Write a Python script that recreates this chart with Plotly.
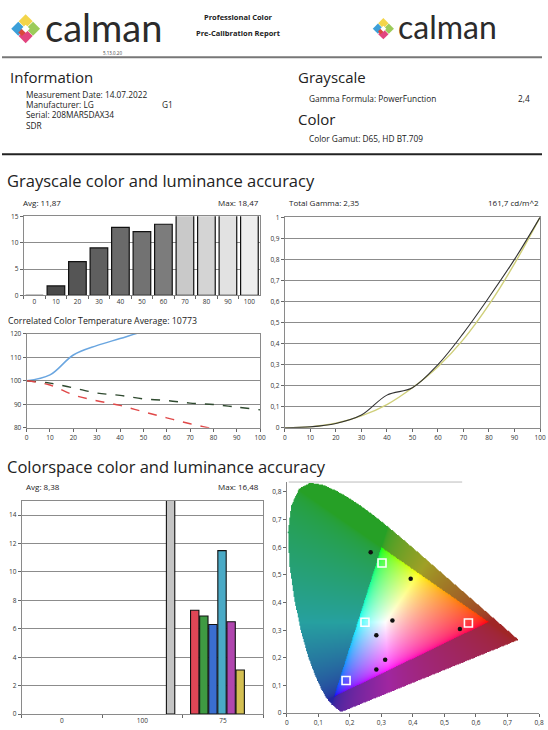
import base64
import struct
import zlib

import numpy as np
import plotly.graph_objects as go

W, H = 548, 730
FONT = "Open Sans"

# ---------------- data ----------------
gs_levels = ["0", "10", "20", "30", "40", "50", "60", "70", "80", "90", "100"]
gs_de = [0.0, 1.8, 6.4, 9.0, 12.9, 12.1, 13.5, 17.6, 18.1, 18.47, 18.3]

gamma_x = [0, 10, 20, 30, 40, 50, 60, 70, 80, 90, 100]
gamma_meas = [0.0, 0.004, 0.02, 0.06, 0.155, 0.19, 0.30, 0.45, 0.62, 0.80, 1.0]
gamma_target = [0.0, 0.004, 0.021, 0.056, 0.11, 0.19, 0.29, 0.42, 0.585, 0.78, 1.0]

rgb_x = [0, 10, 20, 30, 40, 50, 60, 70, 80, 90, 100]
rgb_red = [100, 98.2, 94.0, 91.5, 89.5, 86.8, 84.2, 81.7, 79.5, 77.2, 75.0]
rgb_green = [100, 99.0, 97.0, 94.8, 93.8, 92.3, 91.6, 90.5, 89.9, 88.8, 87.6]
rgb_blue = [100, 102.5, 111.0, 115.0, 118.0, 121.0, 123.0, 124.5, 125.5, 126.5, 127.0]

cs_categories = ["0", "100", "75"]
cs_patches = ["White", "Red", "Green", "Blue", "Cyan", "Magenta", "Yellow"]
cs_de = [16.48, 7.3, 6.9, 6.3, 11.5, 6.5, 3.1]

cie_target_names = ["Green", "Cyan", "Red", "Blue"]
cie_target_x = [0.302, 0.248, 0.576, 0.188]
cie_target_y = [0.543, 0.329, 0.326, 0.118]
cie_meas_names = ["G", "Y", "W", "C", "R", "M", "B"]
cie_meas_x = [0.266, 0.393, 0.335, 0.284, 0.549, 0.312, 0.284]
cie_meas_y = [0.582, 0.486, 0.335, 0.282, 0.304, 0.193, 0.158]

# CIE 1931 spectral locus (x, y)
locus_x = [0.1741, 0.1733, 0.1726, 0.1714, 0.1689, 0.1644, 0.1566, 0.1440, 0.1355, 0.1241,
           0.1096, 0.0913, 0.0687, 0.0454, 0.0235, 0.0082, 0.0039, 0.0139, 0.0389, 0.0743,
           0.1142, 0.1547, 0.1929, 0.2296, 0.2658, 0.3016, 0.3373, 0.3731, 0.4087, 0.4441,
           0.4788, 0.5125, 0.5448, 0.5752, 0.6029, 0.6270, 0.6658, 0.6915, 0.7079, 0.7190,
           0.7260, 0.7347]
locus_y = [0.0050, 0.0048, 0.0048, 0.0051, 0.0069, 0.0109, 0.0177, 0.0297, 0.0399, 0.0578,
           0.0868, 0.1327, 0.2007, 0.2950, 0.4127, 0.5384, 0.6548, 0.7502, 0.8120, 0.8338,
           0.8262, 0.8059, 0.7816, 0.7543, 0.7243, 0.6923, 0.6589, 0.6245, 0.5896, 0.5547,
           0.5202, 0.4866, 0.4544, 0.4242, 0.3965, 0.3725, 0.3340, 0.3083, 0.2920, 0.2809,
           0.2740, 0.2653]
gamut_x = [0.64, 0.30, 0.15]
gamut_y = [0.33, 0.60, 0.06]

# ---------------- styles ----------------
gs_bar_colors = ["#444444", "#4a4a4a", "#555555", "#5f5f5f", "#6a6a6a", "#727272", "#7c7c7c",
                 "#c9c9c9", "#d4d4d4", "#e2e2e2", "#eeeeee"]
cs_bar_colors = ["#c4c4c4", "#df4656", "#3f9a42", "#3a6ecf", "#4aaac6", "#b046ae", "#d3bf52"]


def px(x):
    return x / W


def py(y):
    return 1 - y / H


# ---------------- CIE background image ----------------
CIE_XR = [0, 0.8]
CIE_YR = [0, 0.836]


def point_in_poly(xx, yy, polx, poly):
    res = np.zeros(xx.shape, dtype=bool)
    n = len(polx)
    for i in range(n):
        x1, y1 = polx[i], poly[i]
        x2, y2 = polx[(i + 1) % n], poly[(i + 1) % n]
        cond = ((y1 > yy) != (y2 > yy)) & (xx < (x2 - x1) * (yy - y1) / (y2 - y1 + 1e-12) + x1)
        res ^= cond
    return res


def cie_png(nx=300, ny=280):
    xs = CIE_XR[0] + (np.arange(nx) + 0.5) / nx * (CIE_XR[1] - CIE_XR[0])
    ys = CIE_YR[1] - (np.arange(ny) + 0.5) / ny * (CIE_YR[1] - CIE_YR[0])
    X, Y = np.meshgrid(xs, ys)
    Ys = np.maximum(Y, 1e-4)
    XYZ = np.stack([X / Ys, np.ones_like(X), (1 - X - Y) / Ys])
    M = np.array([[3.2406, -1.5372, -0.4986], [-0.9689, 1.8758, 0.0415], [0.0557, -0.2040, 1.0570]])
    rgb = np.tensordot(M, XYZ, axes=1)
    rgb = np.clip(rgb, 0, None)
    rgb = rgb / np.maximum(rgb.max(axis=0, keepdims=True), 1e-9)
    rgb = np.where(rgb <= 0.0031308, 12.92 * rgb, 1.055 * np.power(rgb, 1 / 2.4) - 0.055)
    inside_locus = point_in_poly(X, Y, locus_x, locus_y)
    inside_tri = point_in_poly(X, Y, gamut_x, gamut_y)
    dim = 0.15 + 0.48 * rgb
    rgb = np.where(inside_tri[None], rgb, dim)
    img = np.zeros((ny, nx, 4), dtype=np.uint8)
    img[..., :3] = np.clip(np.transpose(rgb, (1, 2, 0)) * 255, 0, 255).astype(np.uint8)
    img[..., 3] = np.where(inside_locus, 255, 0).astype(np.uint8)
    raw = b"".join(b"\x00" + img[r].tobytes() for r in range(ny))

    def chunk(t, d):
        return struct.pack(">I", len(d)) + t + d + struct.pack(">I", zlib.crc32(t + d) & 0xFFFFFFFF)

    png = (b"\x89PNG\r\n\x1a\n" + chunk(b"IHDR", struct.pack(">IIBBBBB", nx, ny, 8, 6, 0, 0, 0))
           + chunk(b"IDAT", zlib.compress(raw, 9)) + chunk(b"IEND", b""))
    return "data:image/png;base64," + base64.b64encode(png).decode()


# ---------------- figure ----------------
fig = go.Figure()

# grayscale dE bars
fig.add_trace(go.Bar(x=gs_levels, y=gs_de, marker=dict(color=gs_bar_colors, line=dict(color="#111", width=1.2)),
                     xaxis="x", yaxis="y", showlegend=False))

# gamma
fig.add_trace(go.Scatter(x=gamma_x, y=gamma_target, mode="lines", line=dict(color="#cfcf7a", width=1.4, shape="spline"),
                         xaxis="x2", yaxis="y2", showlegend=False))
fig.add_trace(go.Scatter(x=gamma_x, y=gamma_meas, mode="lines", line=dict(color="#333333", width=1.1, shape="spline"),
                         xaxis="x2", yaxis="y2", showlegend=False))

# RGB balance
fig.add_trace(go.Scatter(x=rgb_x, y=rgb_blue, mode="lines", line=dict(color="#6aa6e0", width=1.5, shape="spline"),
                         xaxis="x3", yaxis="y3", showlegend=False))
fig.add_trace(go.Scatter(x=rgb_x, y=rgb_green, mode="lines", line=dict(color="#2f4a2f", width=1.4, dash="dash", shape="spline"),
                         xaxis="x3", yaxis="y3", showlegend=False))
fig.add_trace(go.Scatter(x=rgb_x, y=rgb_red, mode="lines", line=dict(color="#e04848", width=1.4, dash="dash", shape="spline"),
                         xaxis="x3", yaxis="y3", showlegend=False))

# colorspace dE bars (white in group "100", colours in group "75")
bar_w = 0.113
cs_x = [1.85] + [2.15 + bar_w * i for i in range(len(cs_patches) - 1)]
fig.add_trace(go.Bar(x=cs_x, y=cs_de, width=[bar_w * 0.92] * len(cs_de), text=cs_patches, textposition="none",
                     marker=dict(color=cs_bar_colors, line=dict(color="#111", width=1.1)),
                     xaxis="x4", yaxis="y4", showlegend=False))

# CIE markers
fig.add_trace(go.Scatter(x=cie_target_x, y=cie_target_y, mode="markers", text=cie_target_names,
                         marker=dict(symbol="square-open", size=8, color="white", line=dict(width=1.6)),
                         xaxis="x5", yaxis="y5", showlegend=False))
fig.add_trace(go.Scatter(x=cie_meas_x, y=cie_meas_y, mode="markers", text=cie_meas_names,
                         marker=dict(symbol="circle", size=4.5, color="#111"),
                         xaxis="x5", yaxis="y5", showlegend=False))

tickfont = dict(size=6.5, color="#333", family=FONT)
base_ax = dict(showline=True, linecolor="#8a8a8a", linewidth=1, mirror=True, ticks="outside", ticklen=3,
               tickcolor="#666", tickfont=tickfont, showgrid=True, gridcolor="#8c8c8c", gridwidth=1,
               zeroline=False, fixedrange=True)

layout = dict(
    width=W, height=H, margin=dict(l=0, r=0, t=0, b=0), paper_bgcolor="white", plot_bgcolor="white",
    separators=", ", bargap=0.18, showlegend=False,
    xaxis=dict(base_ax, domain=[px(22), px(262)], anchor="y", type="category", tickson="boundaries", showgrid=False),
    yaxis=dict(base_ax, domain=[py(294), py(214)], anchor="x", range=[0, 15], dtick=5),
    xaxis2=dict(base_ax, domain=[px(287), px(546)], anchor="y2", range=[0, 100], dtick=10, showgrid=False),
    yaxis2=dict(base_ax, domain=[py(428), py(215)], anchor="x2", range=[0, 1], dtick=0.1),
    xaxis3=dict(base_ax, domain=[px(25), px(262)], anchor="y3", range=[0, 100], dtick=10, showgrid=False),
    yaxis3=dict(base_ax, domain=[py(428), py(333)], anchor="x3", range=[80, 120], dtick=10),
    xaxis4=dict(base_ax, domain=[px(20), px(265)], anchor="y4", range=[0, 3], tickvals=[0.5, 1.5, 2.5],
                ticktext=cs_categories, ticks="", showgrid=False,
                minor=dict(tickvals=[0, 1, 2, 3], ticks="outside", ticklen=3, tickcolor="#666")),
    yaxis4=dict(base_ax, domain=[py(718), py(502)], anchor="x4", range=[0, 15], dtick=2),
    xaxis5=dict(base_ax, domain=[px(289), px(545)], anchor="y5", range=CIE_XR, dtick=0.1, showgrid=False,
                mirror=False),
    yaxis5=dict(base_ax, domain=[py(717), py(483)], anchor="x5", range=CIE_YR, dtick=0.1, showgrid=False,
                mirror=False),
)
fig.update_layout(**layout)

fig.add_layout_image(dict(source=cie_png(), xref="x5", yref="y5", x=CIE_XR[0], y=CIE_YR[1],
                          sizex=CIE_XR[1] - CIE_XR[0], sizey=CIE_YR[1] - CIE_YR[0],
                          xanchor="left", yanchor="top", sizing="stretch", layer="below"))

annotations = []


def txt(x, y, s, size, anchor="left", color="#222", family=FONT, yanchor="middle"):
    annotations.append(dict(x=px(x), y=py(y), xref="paper", yref="paper", text=s, showarrow=False,
                            xanchor=anchor, yanchor=yanchor, font=dict(size=size, color=color, family=family)))


# header
txt(42, 22, "calman", 38, color="#2b2b2b", family="Lato")
txt(112, 48.5, "5.13.0.20", 4.5, anchor="center", color="#444")
txt(240, 12, "<b>Professional Color</b>", 7.5, anchor="center", color="#222")
txt(240, 28, "<b>Pre-Calibration Report</b>", 7.5, anchor="center", color="#222")
txt(400, 22, "calman", 32, color="#2b2b2b", family="Lato")

txt(6, 73, "Information", 15)
txt(22, 90.5, "Measurement Date: 14.07.2022", 8.3)
txt(22, 100.8, "Manufacturer: LG", 8.3)
txt(160, 100.8, "G1", 8.3)
txt(22, 111.2, "Serial: 208MAR5DAX34", 8.3)
txt(22, 121.5, "SDR", 8.3)
txt(298, 73, "Grayscale", 15)
txt(310, 95, "Gamma Formula: PowerFunction", 8.3)
txt(522, 95, "2,4", 8.3)
txt(298, 115, "Color", 15)
txt(310, 135, "Color Gamut: D65, HD BT.709", 8.3)

txt(3, 178, "Grayscale color and luminance accuracy", 16.5)
txt(19, 200, "Avg: 11,87", 8)
txt(263, 200, "Max: 18,47", 8, anchor="right")
txt(289, 200, "Total Gamma: 2,35", 8)
txt(547, 200, "161,7 cd/m^2", 8, anchor="right")
txt(4, 320, "Correlated Color Temperature Average: 10773", 8.8)

txt(3, 467, "Colorspace color and luminance accuracy", 16.5)
txt(22, 488, "Avg: 8,38", 8)
txt(263, 488, "Max: 16,48", 8, anchor="right")

fig.update_layout(annotations=annotations)

# header rules and logo icons
shapes = [
    dict(type="line", xref="paper", yref="paper", x0=0, x1=1, y0=py(53), y1=py(53), line=dict(color="#777", width=2)),
    dict(type="line", xref="paper", yref="paper", x0=0, x1=1, y0=py(151), y1=py(151), line=dict(color="#222", width=2)),
    dict(type="line", xref="paper", yref="paper", x0=px(291), x1=px(467), y0=py(483), y1=py(483),
         line=dict(color="#bbbbbb", width=1)),
]


def diamond(cx, cy, r, color):
    path = "M {:.5f},{:.5f} L {:.5f},{:.5f} L {:.5f},{:.5f} L {:.5f},{:.5f} Z".format(
        px(cx), py(cy - r), px(cx + r), py(cy), px(cx), py(cy + r), px(cx - r), py(cy))
    return dict(type="path", xref="paper", yref="paper", path=path, fillcolor=color, line=dict(width=0))


def logo(cx, cy, s):
    return [
        diamond(cx, cy - s, s * 0.95, "#f3d54a"),
        diamond(cx - s, cy, s * 0.95, "#3c9fd8"),
        diamond(cx + s, cy, s * 0.95, "#9ccb5a"),
        diamond(cx, cy + s, s * 0.95, "#e2457f"),
        diamond(cx - s * 0.5, cy + s * 0.5, s * 0.5, "#d94a3c"),
        diamond(cx, cy, s * 0.55, "#ffffff"),
    ]


shapes += logo(24, 24, 7.5)
shapes += logo(387, 24, 5.5)
fig.update_layout(shapes=shapes)

fig.write_html("out.html", config={"displayModeBar": False},
               post_script="document.body.style.margin='0';document.body.style.overflow='hidden';")
